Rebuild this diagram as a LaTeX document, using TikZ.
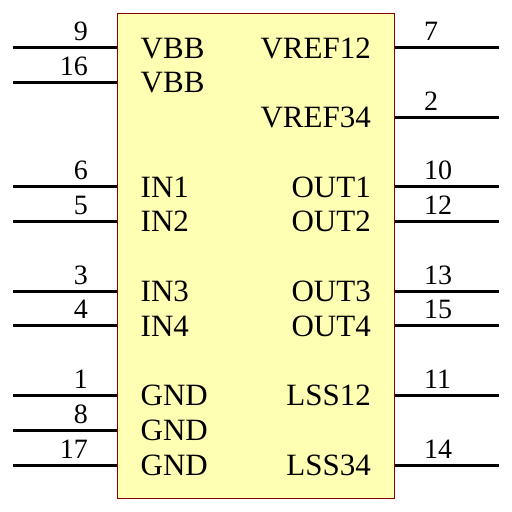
\documentclass[tikz,border=0pt]{standalone}
\usepackage{fontspec}
\setmainfont{Liberation Serif}
\usepackage{xcolor}
\usetikzlibrary{positioning,calc}
\definecolor{chipfill}{HTML}{FFFFB4}
\definecolor{chipline}{HTML}{800000}
\tikzset{
    chipbox/.style={rectangle, draw=chipline, fill=chipfill, line width=1pt, minimum width=277pt, minimum height=485pt, inner sep=0pt},
    pinwire/.style={line width=3.2pt, black},
    numleft/.style={anchor=base east, inner sep=0pt, font=\fontsize{28}{28}\selectfont},
    numright/.style={anchor=base west, inner sep=0pt, font=\fontsize{28}{28}\selectfont},
    sigleft/.style={anchor=base west, inner sep=0pt, font=\fontsize{31}{31}\selectfont},
    sigright/.style={anchor=base east, inner sep=0pt, font=\fontsize{31}{31}\selectfont}
}
\begin{document}
\begin{tikzpicture}[x=1pt, y=-1pt]
    \useasboundingbox (0,0) rectangle (512,512);
    \node (chip) [chipbox] at (255.5,255.5) {};

    % left side
    \coordinate (p9) at (13,47.5);
    \coordinate (p16) at (13,82.5);
    \coordinate (p6) at (13,186.5);
    \coordinate (p5) at (13,221.5);
    \coordinate (p3) at (13,291.5);
    \coordinate (p4) at (13,325.5);
    \coordinate (p1) at (13,395.5);
    \coordinate (p8) at (13,430.5);
    \coordinate (p17) at (13,465.5);

    % right side
    \coordinate (p7) at (499,47.5);
    \coordinate (p2) at (499,117.5);
    \coordinate (p10) at (499,186.5);
    \coordinate (p12) at (499,221.5);
    \coordinate (p13) at (499,291.5);
    \coordinate (p15) at (499,325.5);
    \coordinate (p11) at (499,395.5);
    \coordinate (p14) at (499,465.5);

    \draw [pinwire] (p9) -- (p9 -| chip.west);
    \draw [pinwire] (p16) -- (p16 -| chip.west);
    \draw [pinwire] (p6) -- (p6 -| chip.west);
    \draw [pinwire] (p5) -- (p5 -| chip.west);
    \draw [pinwire] (p3) -- (p3 -| chip.west);
    \draw [pinwire] (p4) -- (p4 -| chip.west);
    \draw [pinwire] (p1) -- (p1 -| chip.west);
    \draw [pinwire] (p8) -- (p8 -| chip.west);
    \draw [pinwire] (p17) -- (p17 -| chip.west);
    \draw [pinwire] (p7) -- (p7 -| chip.east);
    \draw [pinwire] (p2) -- (p2 -| chip.east);
    \draw [pinwire] (p10) -- (p10 -| chip.east);
    \draw [pinwire] (p12) -- (p12 -| chip.east);
    \draw [pinwire] (p13) -- (p13 -| chip.east);
    \draw [pinwire] (p15) -- (p15 -| chip.east);
    \draw [pinwire] (p11) -- (p11 -| chip.east);
    \draw [pinwire] (p14) -- (p14 -| chip.east);

    \node (n9) [numleft] at (88,40.5) {9};
    \node (n16) [numleft] at (88,75) {16};
    \node (n6) [numleft] at (88,179) {6};
    \node (n5) [numleft] at (88,214) {5};
    \node (n3) [numleft] at (88,284) {3};
    \node (n4) [numleft] at (88,318.5) {4};
    \node (n1) [numleft] at (88,388) {1};
    \node (n8) [numleft] at (88,423) {8};
    \node (n17) [numleft] at (88,458) {17};
    \node (n7) [numright] at (424,40.5) {7};
    \node (n2) [numright] at (424,110) {2};
    \node (n10) [numright] at (424,179) {10};
    \node (n12) [numright] at (424,214) {12};
    \node (n13) [numright] at (424,284) {13};
    \node (n15) [numright] at (424,318.5) {15};
    \node (n11) [numright] at (424,388) {11};
    \node (n14) [numright] at (424,458) {14};

    \node (vbba) [sigleft] at (140.5,58) {VBB};
    \node (vbbb) [sigleft] at (140.5,92.5) {VBB};
    \node (in1) [sigleft] at (140.5,197) {IN1};
    \node (in2) [sigleft] at (140.5,231.5) {IN2};
    \node (in3) [sigleft] at (140.5,301.5) {IN3};
    \node (in4) [sigleft] at (140.5,336) {IN4};
    \node (gnda) [sigleft] at (140.5,405.5) {GND};
    \node (gndb) [sigleft] at (140.5,440.5) {GND};
    \node (gndc) [sigleft] at (140.5,475.5) {GND};
    \node (vref12) [sigright] at (371,58) {VREF12};
    \node (vref34) [sigright] at (371,127.5) {VREF34};
    \node (out1) [sigright] at (371,197) {OUT1};
    \node (out2) [sigright] at (371,231.5) {OUT2};
    \node (out3) [sigright] at (371,301.5) {OUT3};
    \node (out4) [sigright] at (371,336) {OUT4};
    \node (lss12) [sigright] at (371,405.5) {LSS12};
    \node (lss34) [sigright] at (371,475.5) {LSS34};
\end{tikzpicture}
\end{document}
